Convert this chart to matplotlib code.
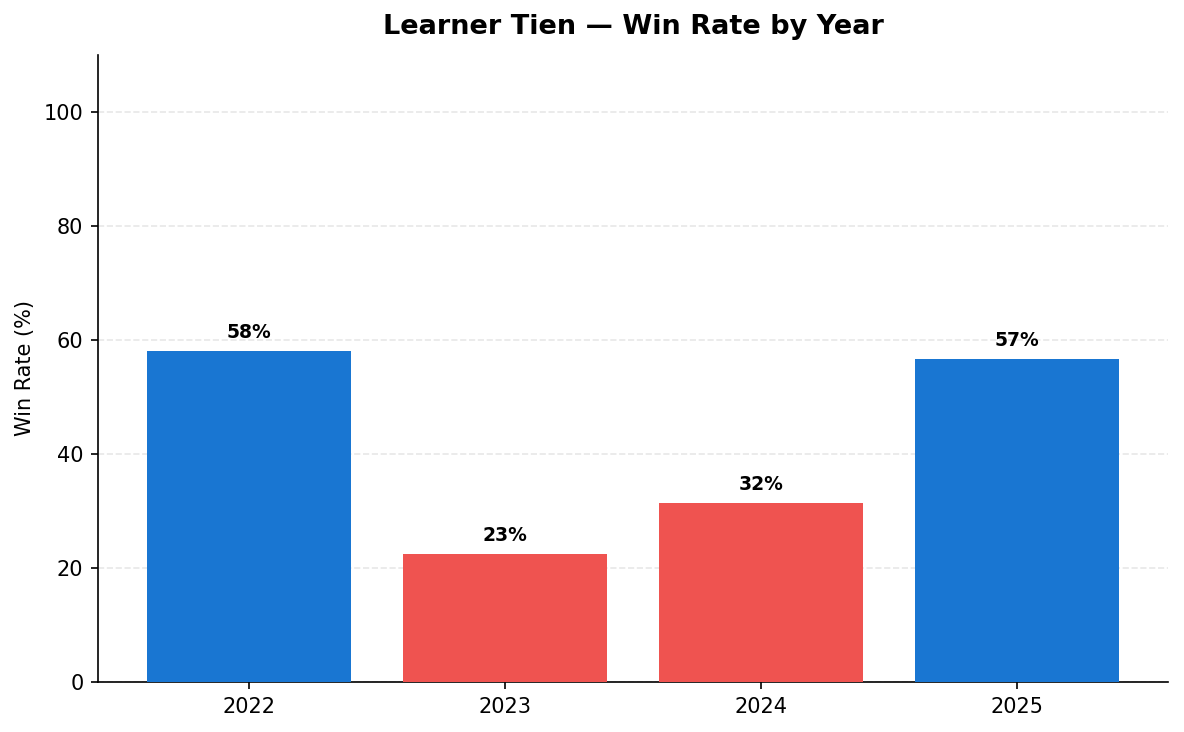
import matplotlib
matplotlib.use("Agg")
import matplotlib.pyplot as plt

years = ["2022", "2023", "2024", "2025"]
win_rates = [58.1, 22.5, 31.4, 56.7]
labels = ["58%", "23%", "32%", "57%"]
colors = ["#1976D2", "#EF5350", "#EF5350", "#1976D2"]

fig = plt.figure(figsize=(1184/150, 732/150), dpi=150)
ax = fig.add_axes([98/1184, 1 - 682/732, (1168-98)/1184, (682-55)/732])

x = list(range(len(years)))
bars = ax.bar(x, win_rates, color=colors, width=0.8, zorder=3)
for xi, v, lab in zip(x, win_rates, labels):
    ax.text(xi, v + 1.5, lab, ha="center", va="bottom", fontsize=9, fontweight="bold")

ax.set_xticks(x)
ax.set_xticklabels(years, fontsize=10)
ax.tick_params(axis="y", labelsize=10)
ax.set_ylim(0, 110)
ax.set_yticks([0, 20, 40, 60, 80, 100])
ax.set_ylabel("Win Rate (%)", fontsize=10)
ax.set_title("Learner Tien — Win Rate by Year", fontsize=13, fontweight="bold", pad=10)
ax.yaxis.grid(True, linestyle="--", alpha=0.3, zorder=0)
ax.spines["top"].set_visible(False)
ax.spines["right"].set_visible(False)

fig.savefig("out.png", dpi=150)
